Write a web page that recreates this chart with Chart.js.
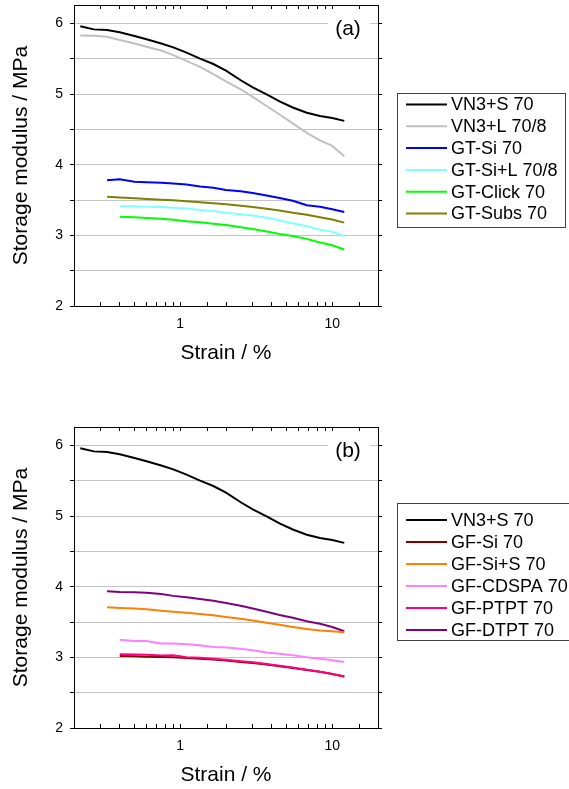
<!DOCTYPE html>
<html>
<head>
<meta charset="utf-8">
<script src="https://cdn.jsdelivr.net/npm/chart.js@4.4.1/dist/chart.umd.min.js"></script>
<style>
  body { margin: 0; background: #fff; overflow: hidden; width: 569px; height: 789px; position: relative; }
  canvas { position: absolute; left: 0; }
</style>
</head>
<body>
<canvas id="graficoA" width="569" height="380" style="top:0"></canvas>
<canvas id="graficoB" width="569" height="367" style="top:422px"></canvas>
<script>
// strain values (%) shared by all curves
var strain = [0.22, 0.27, 0.33, 0.4, 0.5, 0.6, 0.75, 0.9, 1.1, 1.35, 1.65, 2, 2.5, 3, 3.7, 4.5, 5.5, 6.8, 8.3, 10, 12];

// storage modulus (MPa), panel (a)
var vn3S    = [5.96, 5.915, 5.905, 5.875, 5.82, 5.775, 5.715, 5.66, 5.585, 5.50, 5.425, 5.33, 5.195, 5.095, 4.995, 4.895, 4.81, 4.735, 4.69, 4.66, 4.62];
var vn3L    = [5.83, 5.825, 5.81, 5.765, 5.715, 5.67, 5.615, 5.55, 5.47, 5.385, 5.28, 5.18, 5.065, 4.96, 4.83, 4.71, 4.585, 4.45, 4.345, 4.265, 4.12];
var gtSi    = [null, null, 3.78, 3.795, 3.757, 3.752, 3.745, 3.735, 3.72, 3.69, 3.672, 3.642, 3.625, 3.6, 3.565, 3.53, 3.49, 3.425, 3.405, 3.37, 3.33];
var gtSiL   = [null, null, null, 3.413, 3.41, 3.405, 3.40, 3.39, 3.38, 3.36, 3.345, 3.32, 3.30, 3.28, 3.25, 3.21, 3.17, 3.13, 3.08, 3.05, 2.99];
var gtClick = [null, null, null, 3.262, 3.255, 3.245, 3.235, 3.22, 3.20, 3.185, 3.165, 3.145, 3.115, 3.09, 3.055, 3.02, 2.99, 2.95, 2.90, 2.86, 2.80];
var gtSubs  = [null, null, 3.545, 3.535, 3.525, 3.515, 3.505, 3.495, 3.483, 3.47, 3.455, 3.44, 3.42, 3.40, 3.375, 3.35, 3.32, 3.29, 3.255, 3.225, 3.18];

// storage modulus (MPa), panel (b)
var gfSi    = [null, null, null, 3.02, 3.015, 3.01, 3.005, 3.0, 2.99, 2.98, 2.97, 2.955, 2.935, 2.92, 2.90, 2.875, 2.85, 2.82, 2.795, 2.765, 2.73];
var gfSiS   = [null, null, 3.71, 3.70, 3.69, 3.68, 3.66, 3.645, 3.63, 3.615, 3.595, 3.57, 3.545, 3.52, 3.49, 3.46, 3.43, 3.40, 3.38, 3.37, 3.355];
var gfCdspa = [null, null, null, 3.25, 3.23, 3.23, 3.195, 3.195, 3.185, 3.17, 3.145, 3.14, 3.12, 3.10, 3.07, 3.05, 3.03, 3.0, 2.98, 2.96, 2.935];
var gfPtpt  = [null, null, null, 3.045, 3.04, 3.035, 3.025, 3.03, 3.0, 2.995, 2.98, 2.965, 2.945, 2.93, 2.905, 2.88, 2.855, 2.825, 2.795, 2.765, 2.73];
var gfDtpt  = [null, null, 3.935, 3.925, 3.92, 3.915, 3.895, 3.87, 3.85, 3.825, 3.80, 3.77, 3.73, 3.69, 3.645, 3.60, 3.56, 3.51, 3.475, 3.43, 3.37];

var labelsA = ['VN3+S 70', 'VN3+L 70/8', 'GT-Si 70', 'GT-Si+L 70/8', 'GT-Click 70', 'GT-Subs 70'];
var seriesA = [vn3S, vn3L, gtSi, gtSiL, gtClick, gtSubs];
var colorsA = ['#000000', '#c0c0c0', '#0000ff', '#80ffff', '#00ff00', '#808000'];

var labelsB = ['VN3+S 70', 'GF-Si 70', 'GF-Si+S 70', 'GF-CDSPA 70', 'GF-PTPT 70', 'GF-DTPT 70'];
var seriesB = [vn3S, gfSi, gfSiS, gfCdspa, gfPtpt, gfDtpt];
var colorsB = ['#000000', '#800000', '#ff8000', '#ff80ff', '#ff0080', '#800080'];

var yTicks = [2, 3, 4, 5, 6];
var xTicks = [1, 10];

Chart.defaults.font.family = '"Liberation Sans", Arial, sans-serif';
Chart.defaults.color = '#000';

// legend box drawn on the right side of the plot
var caixaLegenda = {
    id: 'caixaLegenda',
    afterDraw: function (chart, args, opts) {
        var ctx = chart.ctx;
        ctx.save();
        ctx.strokeStyle = '#404040';
        ctx.lineWidth = 1;
        ctx.strokeRect(opts.x + 0.5, opts.y + 0.5, opts.w, opts.h);
        ctx.font = '18px "Liberation Sans", Arial, sans-serif';
        ctx.textBaseline = 'middle';
        ctx.textAlign = 'left';
        chart.data.datasets.forEach(function (ds, i) {
            var y = opts.first + i * opts.step;
            ctx.strokeStyle = ds.borderColor;
            ctx.lineWidth = 2;
            ctx.beginPath();
            ctx.moveTo(opts.x + 9, y);
            ctx.lineTo(opts.x + 50, y);
            ctx.stroke();
            ctx.fillStyle = '#000';
            ctx.fillText(ds.label, opts.x + 54, y + 1);
        });
        ctx.restore();
    }
};

// panel tag (a) / (b)
var rotuloPainel = {
    id: 'rotuloPainel',
    afterDraw: function (chart, args, opts) {
        var ctx = chart.ctx;
        var a = chart.chartArea;
        var cx = a.right - 30, cy = a.top + 24;
        ctx.save();
        ctx.fillStyle = '#fff';
        ctx.fillRect(cx - 20, cy - 12, 42, 24);
        ctx.fillStyle = '#000';
        ctx.font = '21px "Liberation Sans", Arial, sans-serif';
        ctx.textAlign = 'center';
        ctx.textBaseline = 'middle';
        ctx.fillText(opts.text, cx, cy);
        ctx.restore();
    }
};

function semPadding(s) {
    s.paddingTop = 0;
    s.paddingBottom = 0;
    s.paddingLeft = 0;
    s.paddingRight = 0;
}

function gerarGrafico(id, labels, series, colors, tag, legendPos, xAxisH, titlePad) {
    var datasets = series.map(function (vals, i) {
        return {
            label: labels[i],
            data: strain.map(function (x, j) { return { x: x, y: vals[j] }; }),
            borderColor: colors[i],
            backgroundColor: colors[i],
            borderWidth: 2,
            pointRadius: 0,
            fill: false,
            tension: 0,
            order: labels[i] === 'GF-PTPT 70' ? -1 : i
        };
    });

    var ctx = document.getElementById(id).getContext('2d');
    return new Chart(ctx, {
        type: 'line',
        data: { datasets: datasets },
        plugins: [caixaLegenda, rotuloPainel],
        options: {
            responsive: false,
            animation: false,
            layout: { padding: { top: 5, right: 191, left: 0, bottom: 0 } },
            plugins: {
                legend: { display: false },
                tooltip: { enabled: false },
                caixaLegenda: legendPos,
                rotuloPainel: { text: tag }
            },
            scales: {
                x: {
                    type: 'logarithmic',
                    position: 'bottom',
                    min: 0.2,
                    max: 20,
                    afterFit: function (s) { s.height = xAxisH; semPadding(s); },
                    border: { color: '#000', width: 1 },
                    grid: { drawOnChartArea: false, drawTicks: true, tickLength: -4, tickColor: '#000' },
                    ticks: {
                        autoSkip: false,
                        maxRotation: 0,
                        padding: 13.6,
                        font: { size: 14 },
                        callback: function (v) { return xTicks.indexOf(v) >= 0 ? String(v) : ''; }
                    },
                    title: { display: true, text: 'Strain / %', font: { size: 21 }, padding: { top: 0, bottom: titlePad } }
                },
                xTop: {
                    type: 'logarithmic',
                    position: 'top',
                    min: 0.2,
                    max: 20,
                    afterFit: function (s) { s.height = 0; semPadding(s); },
                    border: { color: '#000', width: 1 },
                    grid: { drawOnChartArea: false, drawTicks: true, tickLength: -4, tickColor: '#000' },
                    ticks: { display: false, autoSkip: false }
                },
                y: {
                    type: 'linear',
                    position: 'left',
                    min: 2,
                    max: 6.26,
                    afterFit: function (s) { s.width = 74; semPadding(s); },
                    border: { color: '#000', width: 1 },
                    grid: { color: '#c4c4c4', lineWidth: 1, tickLength: 4, tickColor: '#000' },
                    ticks: {
                        stepSize: 0.5,
                        includeBounds: false,
                        padding: 7,
                        font: { size: 14 },
                        callback: function (v) { return yTicks.indexOf(v) >= 0 ? String(v) : ''; }
                    },
                    title: { display: true, text: 'Storage modulus / MPa', font: { size: 21 }, padding: { top: 9, bottom: 0 } }
                },
                yRight: {
                    type: 'linear',
                    position: 'right',
                    min: 2,
                    max: 6.26,
                    afterFit: function (s) { s.width = 0; semPadding(s); },
                    border: { color: '#000', width: 1 },
                    grid: { drawOnChartArea: false, tickLength: 4, tickColor: '#000' },
                    ticks: { display: false, stepSize: 0.5, includeBounds: false }
                }
            }
        }
    });
}

gerarGrafico('graficoA', labelsA, seriesA, colorsA, '(a)',
    { x: 397, y: 93, w: 168, h: 134, first: 104.5, step: 21.8 }, 74, 13.9);
gerarGrafico('graficoB', labelsB, seriesB, colorsB, '(b)',
    { x: 397, y: 81, w: 180, h: 137, first: 98, step: 22 }, 61, 0.9);
</script>
</body>
</html>
